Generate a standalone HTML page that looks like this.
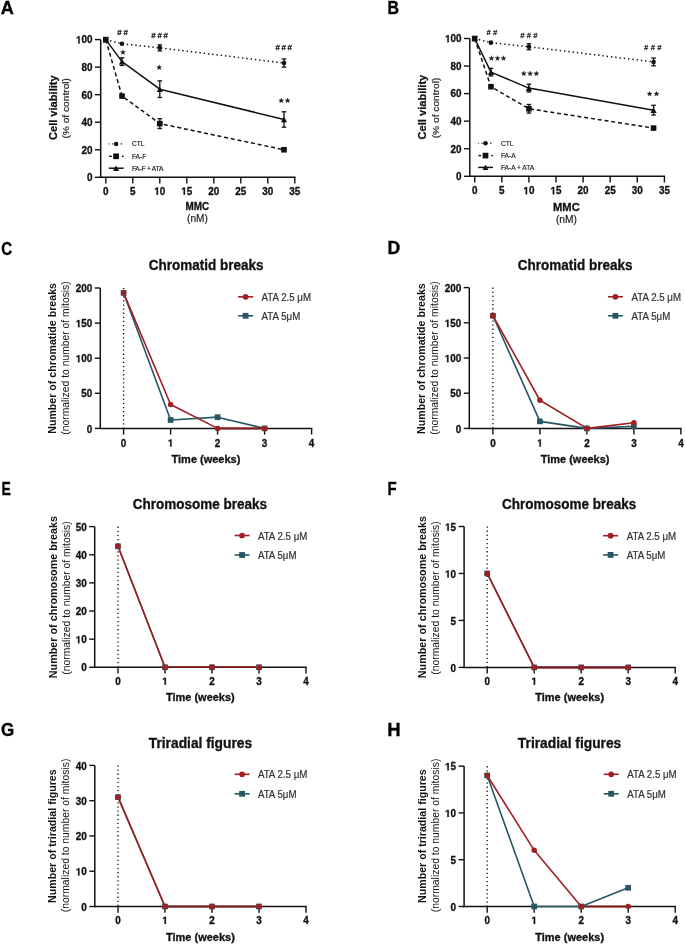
<!DOCTYPE html>
<html><head><meta charset="utf-8"><style>
html,body{margin:0;padding:0;background:#fff;}
svg{display:block;will-change:transform;}
text{font-family:"Liberation Sans", sans-serif;}
text.b{stroke:#111;stroke-width:0.3px;}
text.r{stroke:#333;stroke-width:0.2px;}
</style></head><body>
<svg width="685" height="944" viewBox="0 0 685 944">
<rect width="685" height="944" fill="#fff"/>
<line x1="100.7" y1="39.6" x2="100.7" y2="178" stroke="#111" stroke-width="1.5" />
<line x1="100" y1="177.3" x2="295.5" y2="177.3" stroke="#111" stroke-width="1.5" />
<line x1="94.9" y1="177.3" x2="100.7" y2="177.3" stroke="#111" stroke-width="1.4" />
<text transform="translate(86.99,181.15) scale(1,1.05)" x="0" y="0" font-size="9.9" font-weight="bold" class="b" text-anchor="start" fill="#111" >0</text>
<line x1="94.9" y1="149.76" x2="100.7" y2="149.76" stroke="#111" stroke-width="1.4" />
<text transform="translate(81.49,153.61) scale(1,1.05)" x="0" y="0" font-size="9.9" font-weight="bold" class="b" text-anchor="start" fill="#111" >2</text>
<text transform="translate(86.99,153.61) scale(1,1.05)" x="0" y="0" font-size="9.9" font-weight="bold" class="b" text-anchor="start" fill="#111" >0</text>
<line x1="94.9" y1="122.22" x2="100.7" y2="122.22" stroke="#111" stroke-width="1.4" />
<text transform="translate(81.49,126.07) scale(1,1.05)" x="0" y="0" font-size="9.9" font-weight="bold" class="b" text-anchor="start" fill="#111" >4</text>
<text transform="translate(86.99,126.07) scale(1,1.05)" x="0" y="0" font-size="9.9" font-weight="bold" class="b" text-anchor="start" fill="#111" >0</text>
<line x1="94.9" y1="94.68" x2="100.7" y2="94.68" stroke="#111" stroke-width="1.4" />
<text transform="translate(81.49,98.53) scale(1,1.05)" x="0" y="0" font-size="9.9" font-weight="bold" class="b" text-anchor="start" fill="#111" >6</text>
<text transform="translate(86.99,98.53) scale(1,1.05)" x="0" y="0" font-size="9.9" font-weight="bold" class="b" text-anchor="start" fill="#111" >0</text>
<line x1="94.9" y1="67.14" x2="100.7" y2="67.14" stroke="#111" stroke-width="1.4" />
<text transform="translate(81.49,70.99) scale(1,1.05)" x="0" y="0" font-size="9.9" font-weight="bold" class="b" text-anchor="start" fill="#111" >8</text>
<text transform="translate(86.99,70.99) scale(1,1.05)" x="0" y="0" font-size="9.9" font-weight="bold" class="b" text-anchor="start" fill="#111" >0</text>
<line x1="94.9" y1="39.6" x2="100.7" y2="39.6" stroke="#111" stroke-width="1.4" />
<path transform="translate(75.98,43.45) scale(0.00483,-0.00508)" d="M478,0 L478,1170 L140,959 L140,1180 L493,1409 L759,1409 L759,0 Z" fill="#111" stroke="#111" stroke-width="0.3" vector-effect="non-scaling-stroke"/>
<text transform="translate(81.49,43.45) scale(1,1.05)" x="0" y="0" font-size="9.9" font-weight="bold" class="b" text-anchor="start" fill="#111" >0</text>
<text transform="translate(86.99,43.45) scale(1,1.05)" x="0" y="0" font-size="9.9" font-weight="bold" class="b" text-anchor="start" fill="#111" >0</text>
<line x1="105.8" y1="177.3" x2="105.8" y2="183.5" stroke="#111" stroke-width="1.4" />
<text transform="translate(103.05,194.75) scale(1,1.05)" x="0" y="0" font-size="9.9" font-weight="bold" class="b" text-anchor="start" fill="#111" >0</text>
<line x1="132.8" y1="177.3" x2="132.8" y2="183.5" stroke="#111" stroke-width="1.4" />
<text transform="translate(130.05,194.75) scale(1,1.05)" x="0" y="0" font-size="9.9" font-weight="bold" class="b" text-anchor="start" fill="#111" >5</text>
<line x1="159.8" y1="177.3" x2="159.8" y2="183.5" stroke="#111" stroke-width="1.4" />
<path transform="translate(154.29,194.75) scale(0.00483,-0.00508)" d="M478,0 L478,1170 L140,959 L140,1180 L493,1409 L759,1409 L759,0 Z" fill="#111" stroke="#111" stroke-width="0.3" vector-effect="non-scaling-stroke"/>
<text transform="translate(159.8,194.75) scale(1,1.05)" x="0" y="0" font-size="9.9" font-weight="bold" class="b" text-anchor="start" fill="#111" >0</text>
<line x1="186.8" y1="177.3" x2="186.8" y2="183.5" stroke="#111" stroke-width="1.4" />
<path transform="translate(181.29,194.75) scale(0.00483,-0.00508)" d="M478,0 L478,1170 L140,959 L140,1180 L493,1409 L759,1409 L759,0 Z" fill="#111" stroke="#111" stroke-width="0.3" vector-effect="non-scaling-stroke"/>
<text transform="translate(186.8,194.75) scale(1,1.05)" x="0" y="0" font-size="9.9" font-weight="bold" class="b" text-anchor="start" fill="#111" >5</text>
<line x1="213.8" y1="177.3" x2="213.8" y2="183.5" stroke="#111" stroke-width="1.4" />
<text transform="translate(208.29,194.75) scale(1,1.05)" x="0" y="0" font-size="9.9" font-weight="bold" class="b" text-anchor="start" fill="#111" >2</text>
<text transform="translate(213.8,194.75) scale(1,1.05)" x="0" y="0" font-size="9.9" font-weight="bold" class="b" text-anchor="start" fill="#111" >0</text>
<line x1="240.8" y1="177.3" x2="240.8" y2="183.5" stroke="#111" stroke-width="1.4" />
<text transform="translate(235.29,194.75) scale(1,1.05)" x="0" y="0" font-size="9.9" font-weight="bold" class="b" text-anchor="start" fill="#111" >2</text>
<text transform="translate(240.8,194.75) scale(1,1.05)" x="0" y="0" font-size="9.9" font-weight="bold" class="b" text-anchor="start" fill="#111" >5</text>
<line x1="267.8" y1="177.3" x2="267.8" y2="183.5" stroke="#111" stroke-width="1.4" />
<text transform="translate(262.29,194.75) scale(1,1.05)" x="0" y="0" font-size="9.9" font-weight="bold" class="b" text-anchor="start" fill="#111" >3</text>
<text transform="translate(267.8,194.75) scale(1,1.05)" x="0" y="0" font-size="9.9" font-weight="bold" class="b" text-anchor="start" fill="#111" >0</text>
<line x1="294.8" y1="177.3" x2="294.8" y2="183.5" stroke="#111" stroke-width="1.4" />
<text transform="translate(289.29,194.75) scale(1,1.05)" x="0" y="0" font-size="9.9" font-weight="bold" class="b" text-anchor="start" fill="#111" >3</text>
<text transform="translate(294.8,194.75) scale(1,1.05)" x="0" y="0" font-size="9.9" font-weight="bold" class="b" text-anchor="start" fill="#111" >5</text>
<text transform="translate(197.4,209.8) scale(1,1.05)" x="0" y="0" font-size="9.9" font-weight="bold" class="b" text-anchor="middle" fill="#111" >MMC</text>
<text transform="translate(197.4,221.89) scale(1,1.05)" x="0" y="0" font-size="10.1" class="r" text-anchor="middle" fill="#111" >(nM)</text>
<text transform="translate(56.8,107.7) rotate(-90) scale(1,0.95)" x="0" y="0" font-size="11.1" font-weight="bold" text-anchor="middle" fill="#111" stroke="#111" stroke-width="0.25">Cell viability</text>
<text transform="translate(69.4,108.3) rotate(-90) scale(1,0.92)" x="0" y="0" font-size="10.2" text-anchor="middle" fill="#222" stroke="#222" stroke-width="0.2">(% of control)</text>
<polyline points="105.8,39.6 122,43.73 159.8,47.86 284,63.01" fill="none" stroke="#111" stroke-width="1.5" stroke-linejoin="round" stroke-dasharray="1.4 2.9"/>
<polyline points="105.8,39.6 122,96.06 159.8,123.6 284,149.76" fill="none" stroke="#111" stroke-width="1.5" stroke-linejoin="round" stroke-dasharray="4 2.85"/>
<polyline points="105.8,39.6 122,61.63 159.8,89.17 284,119.47" fill="none" stroke="#111" stroke-width="1.5" stroke-linejoin="round" />
<line x1="159.8" y1="44.86" x2="159.8" y2="50.86" stroke="#111" stroke-width="1.3" />
<line x1="157.5" y1="44.86" x2="162.1" y2="44.86" stroke="#111" stroke-width="1.3" />
<line x1="157.5" y1="50.86" x2="162.1" y2="50.86" stroke="#111" stroke-width="1.3" />
<line x1="284" y1="58.91" x2="284" y2="67.11" stroke="#111" stroke-width="1.3" />
<line x1="281.7" y1="58.91" x2="286.3" y2="58.91" stroke="#111" stroke-width="1.3" />
<line x1="281.7" y1="67.11" x2="286.3" y2="67.11" stroke="#111" stroke-width="1.3" />
<line x1="159.8" y1="118.7" x2="159.8" y2="128.5" stroke="#111" stroke-width="1.3" />
<line x1="157.5" y1="118.7" x2="162.1" y2="118.7" stroke="#111" stroke-width="1.3" />
<line x1="157.5" y1="128.5" x2="162.1" y2="128.5" stroke="#111" stroke-width="1.3" />
<line x1="122" y1="57.78" x2="122" y2="65.48" stroke="#111" stroke-width="1.3" />
<line x1="119.7" y1="57.78" x2="124.3" y2="57.78" stroke="#111" stroke-width="1.3" />
<line x1="119.7" y1="65.48" x2="124.3" y2="65.48" stroke="#111" stroke-width="1.3" />
<line x1="159.8" y1="80.87" x2="159.8" y2="97.47" stroke="#111" stroke-width="1.3" />
<line x1="157.5" y1="80.87" x2="162.1" y2="80.87" stroke="#111" stroke-width="1.3" />
<line x1="157.5" y1="97.47" x2="162.1" y2="97.47" stroke="#111" stroke-width="1.3" />
<line x1="284" y1="111.77" x2="284" y2="127.17" stroke="#111" stroke-width="1.3" />
<line x1="281.7" y1="111.77" x2="286.3" y2="111.77" stroke="#111" stroke-width="1.3" />
<line x1="281.7" y1="127.17" x2="286.3" y2="127.17" stroke="#111" stroke-width="1.3" />
<circle cx="105.8" cy="39.6" r="2.3" fill="#111"/>
<circle cx="122" cy="43.73" r="2.3" fill="#111"/>
<circle cx="159.8" cy="47.86" r="2.3" fill="#111"/>
<circle cx="284" cy="63.01" r="2.3" fill="#111"/>
<rect x="103" y="36.8" width="5.6" height="5.6" fill="#111"/>
<rect x="119.2" y="93.26" width="5.6" height="5.6" fill="#111"/>
<rect x="157" y="120.8" width="5.6" height="5.6" fill="#111"/>
<rect x="281.2" y="146.96" width="5.6" height="5.6" fill="#111"/>
<polygon points="102.7,42.39 108.9,42.39 105.8,36.81" fill="#111"/>
<polygon points="118.9,64.42 125.1,64.42 122,58.84" fill="#111"/>
<polygon points="156.7,91.96 162.9,91.96 159.8,86.38" fill="#111"/>
<polygon points="280.9,122.26 287.1,122.26 284,116.68" fill="#111"/>
<text transform="translate(123.43,35.18) scale(1.28,1.05)" x="0" y="0" font-size="6.2" text-anchor="middle" fill="#1a1a1a" letter-spacing="1.3" stroke="#1a1a1a" stroke-width="0.25" font-style="normal">##</text>
<text transform="translate(160.43,37.98) scale(1.28,1.05)" x="0" y="0" font-size="6.2" text-anchor="middle" fill="#1a1a1a" letter-spacing="1.3" stroke="#1a1a1a" stroke-width="0.25" font-style="normal">###</text>
<text transform="translate(284.53,49.78) scale(1.28,1.05)" x="0" y="0" font-size="6.2" text-anchor="middle" fill="#1a1a1a" letter-spacing="1.3" stroke="#1a1a1a" stroke-width="0.25" font-style="normal">###</text>
<polygon points="122.95,49.65 123.62,51.38 125.47,51.48 124.03,52.65 124.51,54.44 122.95,53.44 121.39,54.44 121.87,52.65 120.43,51.48 122.28,51.38" fill="#1a1a1a" stroke="#1a1a1a" stroke-width="0.3" stroke-linejoin="round"/>
<polygon points="159.2,64.85 159.87,66.58 161.72,66.68 160.28,67.85 160.76,69.64 159.2,68.64 157.64,69.64 158.12,67.85 156.68,66.68 158.53,66.58" fill="#1a1a1a" stroke="#1a1a1a" stroke-width="0.3" stroke-linejoin="round"/>
<polygon points="281.2,98.05 281.87,99.78 283.72,99.88 282.28,101.05 282.76,102.84 281.2,101.84 279.64,102.84 280.12,101.05 278.68,99.88 280.53,99.78" fill="#1a1a1a" stroke="#1a1a1a" stroke-width="0.3" stroke-linejoin="round"/>
<polygon points="287.6,98.05 288.27,99.78 290.12,99.88 288.68,101.05 289.16,102.84 287.6,101.84 286.04,102.84 286.52,101.05 285.08,99.88 286.93,99.78" fill="#1a1a1a" stroke="#1a1a1a" stroke-width="0.3" stroke-linejoin="round"/>
<rect x="108.45" y="143.25" width="1.3" height="1.3" fill="#111" opacity="0.55"/>
<rect x="111.95" y="143.25" width="1.3" height="1.3" fill="#111" opacity="0.85"/>
<rect x="120.75" y="143.25" width="1.3" height="1.3" fill="#111" opacity="1.0"/>
<circle cx="116.1" cy="143.9" r="2.25" fill="#111"/>
<line x1="109" y1="156.3" x2="111.8" y2="156.3" stroke="#111" stroke-width="1.4" />
<line x1="121.9" y1="156.3" x2="123.7" y2="156.3" stroke="#111" stroke-width="1.4" />
<rect x="113.25" y="153.45" width="5.7" height="5.7" fill="#111"/>
<line x1="108.8" y1="168.2" x2="123.6" y2="168.2" stroke="#111" stroke-width="1.5" />
<polygon points="113.1,170.9 119.1,170.9 116.1,165.5" fill="#111"/>
<text transform="translate(131.9,146.2) scale(1,1.05)" x="0" y="0" font-size="6.6" class="r" text-anchor="start" fill="#222" >CTL</text>
<text transform="translate(131.9,158.6) scale(1,1.05)" x="0" y="0" font-size="6.6" class="r" text-anchor="start" fill="#222" >FA-F</text>
<text transform="translate(131.9,170.5) scale(1,1.05)" x="0" y="0" font-size="6.6" class="r" text-anchor="start" fill="#222" textLength="31.4" lengthAdjust="spacing">FA-F + ATA</text>
<line x1="469.8" y1="38.5" x2="469.8" y2="177" stroke="#111" stroke-width="1.5" />
<line x1="469.1" y1="176.3" x2="665.1" y2="176.3" stroke="#111" stroke-width="1.5" />
<line x1="464" y1="176.3" x2="469.8" y2="176.3" stroke="#111" stroke-width="1.4" />
<text transform="translate(456.09,180.15) scale(1,1.05)" x="0" y="0" font-size="9.9" font-weight="bold" class="b" text-anchor="start" fill="#111" >0</text>
<line x1="464" y1="148.74" x2="469.8" y2="148.74" stroke="#111" stroke-width="1.4" />
<text transform="translate(450.59,152.59) scale(1,1.05)" x="0" y="0" font-size="9.9" font-weight="bold" class="b" text-anchor="start" fill="#111" >2</text>
<text transform="translate(456.09,152.59) scale(1,1.05)" x="0" y="0" font-size="9.9" font-weight="bold" class="b" text-anchor="start" fill="#111" >0</text>
<line x1="464" y1="121.18" x2="469.8" y2="121.18" stroke="#111" stroke-width="1.4" />
<text transform="translate(450.59,125.03) scale(1,1.05)" x="0" y="0" font-size="9.9" font-weight="bold" class="b" text-anchor="start" fill="#111" >4</text>
<text transform="translate(456.09,125.03) scale(1,1.05)" x="0" y="0" font-size="9.9" font-weight="bold" class="b" text-anchor="start" fill="#111" >0</text>
<line x1="464" y1="93.62" x2="469.8" y2="93.62" stroke="#111" stroke-width="1.4" />
<text transform="translate(450.59,97.47) scale(1,1.05)" x="0" y="0" font-size="9.9" font-weight="bold" class="b" text-anchor="start" fill="#111" >6</text>
<text transform="translate(456.09,97.47) scale(1,1.05)" x="0" y="0" font-size="9.9" font-weight="bold" class="b" text-anchor="start" fill="#111" >0</text>
<line x1="464" y1="66.06" x2="469.8" y2="66.06" stroke="#111" stroke-width="1.4" />
<text transform="translate(450.59,69.91) scale(1,1.05)" x="0" y="0" font-size="9.9" font-weight="bold" class="b" text-anchor="start" fill="#111" >8</text>
<text transform="translate(456.09,69.91) scale(1,1.05)" x="0" y="0" font-size="9.9" font-weight="bold" class="b" text-anchor="start" fill="#111" >0</text>
<line x1="464" y1="38.5" x2="469.8" y2="38.5" stroke="#111" stroke-width="1.4" />
<path transform="translate(445.08,42.35) scale(0.00483,-0.00508)" d="M478,0 L478,1170 L140,959 L140,1180 L493,1409 L759,1409 L759,0 Z" fill="#111" stroke="#111" stroke-width="0.3" vector-effect="non-scaling-stroke"/>
<text transform="translate(450.59,42.35) scale(1,1.05)" x="0" y="0" font-size="9.9" font-weight="bold" class="b" text-anchor="start" fill="#111" >0</text>
<text transform="translate(456.09,42.35) scale(1,1.05)" x="0" y="0" font-size="9.9" font-weight="bold" class="b" text-anchor="start" fill="#111" >0</text>
<line x1="474.7" y1="176.3" x2="474.7" y2="182.5" stroke="#111" stroke-width="1.4" />
<text transform="translate(471.95,194.25) scale(1,1.05)" x="0" y="0" font-size="9.9" font-weight="bold" class="b" text-anchor="start" fill="#111" >0</text>
<line x1="501.8" y1="176.3" x2="501.8" y2="182.5" stroke="#111" stroke-width="1.4" />
<text transform="translate(499.05,194.25) scale(1,1.05)" x="0" y="0" font-size="9.9" font-weight="bold" class="b" text-anchor="start" fill="#111" >5</text>
<line x1="528.9" y1="176.3" x2="528.9" y2="182.5" stroke="#111" stroke-width="1.4" />
<path transform="translate(523.39,194.25) scale(0.00483,-0.00508)" d="M478,0 L478,1170 L140,959 L140,1180 L493,1409 L759,1409 L759,0 Z" fill="#111" stroke="#111" stroke-width="0.3" vector-effect="non-scaling-stroke"/>
<text transform="translate(528.9,194.25) scale(1,1.05)" x="0" y="0" font-size="9.9" font-weight="bold" class="b" text-anchor="start" fill="#111" >0</text>
<line x1="556" y1="176.3" x2="556" y2="182.5" stroke="#111" stroke-width="1.4" />
<path transform="translate(550.49,194.25) scale(0.00483,-0.00508)" d="M478,0 L478,1170 L140,959 L140,1180 L493,1409 L759,1409 L759,0 Z" fill="#111" stroke="#111" stroke-width="0.3" vector-effect="non-scaling-stroke"/>
<text transform="translate(556,194.25) scale(1,1.05)" x="0" y="0" font-size="9.9" font-weight="bold" class="b" text-anchor="start" fill="#111" >5</text>
<line x1="583.1" y1="176.3" x2="583.1" y2="182.5" stroke="#111" stroke-width="1.4" />
<text transform="translate(577.59,194.25) scale(1,1.05)" x="0" y="0" font-size="9.9" font-weight="bold" class="b" text-anchor="start" fill="#111" >2</text>
<text transform="translate(583.1,194.25) scale(1,1.05)" x="0" y="0" font-size="9.9" font-weight="bold" class="b" text-anchor="start" fill="#111" >0</text>
<line x1="610.2" y1="176.3" x2="610.2" y2="182.5" stroke="#111" stroke-width="1.4" />
<text transform="translate(604.69,194.25) scale(1,1.05)" x="0" y="0" font-size="9.9" font-weight="bold" class="b" text-anchor="start" fill="#111" >2</text>
<text transform="translate(610.2,194.25) scale(1,1.05)" x="0" y="0" font-size="9.9" font-weight="bold" class="b" text-anchor="start" fill="#111" >5</text>
<line x1="637.3" y1="176.3" x2="637.3" y2="182.5" stroke="#111" stroke-width="1.4" />
<text transform="translate(631.79,194.25) scale(1,1.05)" x="0" y="0" font-size="9.9" font-weight="bold" class="b" text-anchor="start" fill="#111" >3</text>
<text transform="translate(637.3,194.25) scale(1,1.05)" x="0" y="0" font-size="9.9" font-weight="bold" class="b" text-anchor="start" fill="#111" >0</text>
<line x1="664.4" y1="176.3" x2="664.4" y2="182.5" stroke="#111" stroke-width="1.4" />
<text transform="translate(658.89,194.25) scale(1,1.05)" x="0" y="0" font-size="9.9" font-weight="bold" class="b" text-anchor="start" fill="#111" >3</text>
<text transform="translate(664.4,194.25) scale(1,1.05)" x="0" y="0" font-size="9.9" font-weight="bold" class="b" text-anchor="start" fill="#111" >5</text>
<text transform="translate(566.4,210.6) scale(1,1.05)" x="0" y="0" font-size="11.2" font-weight="bold" class="b" text-anchor="middle" fill="#111" >MMC</text>
<text transform="translate(566.4,222.96) scale(1,1.05)" x="0" y="0" font-size="10.2" class="r" text-anchor="middle" fill="#111" >(nM)</text>
<text transform="translate(425.9,107.1) rotate(-90) scale(1,0.95)" x="0" y="0" font-size="11.1" font-weight="bold" text-anchor="middle" fill="#111" stroke="#111" stroke-width="0.25">Cell viability</text>
<text transform="translate(438.7,108) rotate(-90) scale(1,0.92)" x="0" y="0" font-size="10.2" text-anchor="middle" fill="#222" stroke="#222" stroke-width="0.2">(% of control)</text>
<polyline points="474.7,38.5 490.96,42.63 528.9,46.77 653.56,61.93" fill="none" stroke="#111" stroke-width="1.5" stroke-linejoin="round" stroke-dasharray="1.4 2.9"/>
<polyline points="474.7,38.5 490.96,86.73 528.9,108.78 653.56,128.07" fill="none" stroke="#111" stroke-width="1.5" stroke-linejoin="round" stroke-dasharray="4 2.85"/>
<polyline points="474.7,38.5 490.96,72.12 528.9,88.11 653.56,110.16" fill="none" stroke="#111" stroke-width="1.5" stroke-linejoin="round" />
<line x1="528.9" y1="43.77" x2="528.9" y2="49.77" stroke="#111" stroke-width="1.3" />
<line x1="526.6" y1="43.77" x2="531.2" y2="43.77" stroke="#111" stroke-width="1.3" />
<line x1="526.6" y1="49.77" x2="531.2" y2="49.77" stroke="#111" stroke-width="1.3" />
<line x1="653.56" y1="58.03" x2="653.56" y2="65.83" stroke="#111" stroke-width="1.3" />
<line x1="651.26" y1="58.03" x2="655.86" y2="58.03" stroke="#111" stroke-width="1.3" />
<line x1="651.26" y1="65.83" x2="655.86" y2="65.83" stroke="#111" stroke-width="1.3" />
<line x1="528.9" y1="104.48" x2="528.9" y2="113.08" stroke="#111" stroke-width="1.3" />
<line x1="526.6" y1="104.48" x2="531.2" y2="104.48" stroke="#111" stroke-width="1.3" />
<line x1="526.6" y1="113.08" x2="531.2" y2="113.08" stroke="#111" stroke-width="1.3" />
<line x1="490.96" y1="68.32" x2="490.96" y2="75.92" stroke="#111" stroke-width="1.3" />
<line x1="488.66" y1="68.32" x2="493.26" y2="68.32" stroke="#111" stroke-width="1.3" />
<line x1="488.66" y1="75.92" x2="493.26" y2="75.92" stroke="#111" stroke-width="1.3" />
<line x1="528.9" y1="84.26" x2="528.9" y2="91.96" stroke="#111" stroke-width="1.3" />
<line x1="526.6" y1="84.26" x2="531.2" y2="84.26" stroke="#111" stroke-width="1.3" />
<line x1="526.6" y1="91.96" x2="531.2" y2="91.96" stroke="#111" stroke-width="1.3" />
<line x1="653.56" y1="105.26" x2="653.56" y2="115.06" stroke="#111" stroke-width="1.3" />
<line x1="651.26" y1="105.26" x2="655.86" y2="105.26" stroke="#111" stroke-width="1.3" />
<line x1="651.26" y1="115.06" x2="655.86" y2="115.06" stroke="#111" stroke-width="1.3" />
<circle cx="474.7" cy="38.5" r="2.3" fill="#111"/>
<circle cx="490.96" cy="42.63" r="2.3" fill="#111"/>
<circle cx="528.9" cy="46.77" r="2.3" fill="#111"/>
<circle cx="653.56" cy="61.93" r="2.3" fill="#111"/>
<rect x="471.9" y="35.7" width="5.6" height="5.6" fill="#111"/>
<rect x="488.16" y="83.93" width="5.6" height="5.6" fill="#111"/>
<rect x="526.1" y="105.98" width="5.6" height="5.6" fill="#111"/>
<rect x="650.76" y="125.27" width="5.6" height="5.6" fill="#111"/>
<polygon points="471.6,41.29 477.8,41.29 474.7,35.71" fill="#111"/>
<polygon points="487.86,74.91 494.06,74.91 490.96,69.33" fill="#111"/>
<polygon points="525.8,90.9 532,90.9 528.9,85.32" fill="#111"/>
<polygon points="650.46,112.95 656.66,112.95 653.56,107.37" fill="#111"/>
<text transform="translate(493.05,34.72) scale(1,1.05)" x="0" y="0" font-size="7.4" text-anchor="middle" fill="#1a1a1a" letter-spacing="2.5" stroke="#1a1a1a" stroke-width="0.25" font-style="italic">##</text>
<text transform="translate(530.05,37.72) scale(1,1.05)" x="0" y="0" font-size="7.4" text-anchor="middle" fill="#1a1a1a" letter-spacing="2.5" stroke="#1a1a1a" stroke-width="0.25" font-style="italic">###</text>
<text transform="translate(653.95,49.72) scale(1,1.05)" x="0" y="0" font-size="7.4" text-anchor="middle" fill="#1a1a1a" letter-spacing="2.5" stroke="#1a1a1a" stroke-width="0.25" font-style="italic">###</text>
<polygon points="491.5,55.65 492.17,57.38 494.02,57.48 492.58,58.65 493.06,60.44 491.5,59.44 489.94,60.44 490.42,58.65 488.98,57.48 490.83,57.38" fill="#1a1a1a" stroke="#1a1a1a" stroke-width="0.3" stroke-linejoin="round"/>
<polygon points="497.5,55.65 498.17,57.38 500.02,57.48 498.58,58.65 499.06,60.44 497.5,59.44 495.94,60.44 496.42,58.65 494.98,57.48 496.83,57.38" fill="#1a1a1a" stroke="#1a1a1a" stroke-width="0.3" stroke-linejoin="round"/>
<polygon points="503.5,55.65 504.17,57.38 506.02,57.48 504.58,58.65 505.06,60.44 503.5,59.44 501.94,60.44 502.42,58.65 500.98,57.48 502.83,57.38" fill="#1a1a1a" stroke="#1a1a1a" stroke-width="0.3" stroke-linejoin="round"/>
<polygon points="523.8,70.95 524.47,72.68 526.32,72.78 524.88,73.95 525.36,75.74 523.8,74.74 522.24,75.74 522.72,73.95 521.28,72.78 523.13,72.68" fill="#1a1a1a" stroke="#1a1a1a" stroke-width="0.3" stroke-linejoin="round"/>
<polygon points="530.1,70.95 530.77,72.68 532.62,72.78 531.18,73.95 531.66,75.74 530.1,74.74 528.54,75.74 529.02,73.95 527.58,72.78 529.43,72.68" fill="#1a1a1a" stroke="#1a1a1a" stroke-width="0.3" stroke-linejoin="round"/>
<polygon points="536.4,70.95 537.07,72.68 538.92,72.78 537.48,73.95 537.96,75.74 536.4,74.74 534.84,75.74 535.32,73.95 533.88,72.78 535.73,72.68" fill="#1a1a1a" stroke="#1a1a1a" stroke-width="0.3" stroke-linejoin="round"/>
<polygon points="649.6,91.25 650.27,92.98 652.12,93.08 650.68,94.25 651.16,96.04 649.6,95.04 648.04,96.04 648.52,94.25 647.08,93.08 648.93,92.98" fill="#1a1a1a" stroke="#1a1a1a" stroke-width="0.3" stroke-linejoin="round"/>
<polygon points="656.5,91.25 657.17,92.98 659.02,93.08 657.58,94.25 658.06,96.04 656.5,95.04 654.94,96.04 655.42,94.25 653.98,93.08 655.83,92.98" fill="#1a1a1a" stroke="#1a1a1a" stroke-width="0.3" stroke-linejoin="round"/>
<rect x="477.85" y="142.65" width="1.3" height="1.3" fill="#111" opacity="0.55"/>
<rect x="481.35" y="142.65" width="1.3" height="1.3" fill="#111" opacity="0.85"/>
<rect x="490.15" y="142.65" width="1.3" height="1.3" fill="#111" opacity="1.0"/>
<circle cx="485.5" cy="143.3" r="2.25" fill="#111"/>
<line x1="478.4" y1="155.6" x2="481.2" y2="155.6" stroke="#111" stroke-width="1.4" />
<line x1="491.3" y1="155.6" x2="493.1" y2="155.6" stroke="#111" stroke-width="1.4" />
<rect x="482.65" y="152.75" width="5.7" height="5.7" fill="#111"/>
<line x1="478.2" y1="167.4" x2="493" y2="167.4" stroke="#111" stroke-width="1.5" />
<polygon points="482.5,170.1 488.5,170.1 485.5,164.7" fill="#111"/>
<text transform="translate(500.9,145.6) scale(1,1.05)" x="0" y="0" font-size="6.6" class="r" text-anchor="start" fill="#222" >CTL</text>
<text transform="translate(500.9,157.9) scale(1,1.05)" x="0" y="0" font-size="6.6" class="r" text-anchor="start" fill="#222" >FA-A</text>
<text transform="translate(500.9,169.7) scale(1,1.05)" x="0" y="0" font-size="6.6" class="r" text-anchor="start" fill="#222" >FA-A + ATA</text>
<line x1="100.3" y1="288" x2="100.3" y2="429.1" stroke="#111" stroke-width="1.5" />
<line x1="99.6" y1="428.4" x2="312.3" y2="428.4" stroke="#111" stroke-width="1.5" />
<line x1="94.8" y1="428.4" x2="100.3" y2="428.4" stroke="#111" stroke-width="1.4" />
<text transform="translate(86.79,432.55) scale(1,1.05)" x="0" y="0" font-size="9.9" font-weight="bold" class="b" text-anchor="start" fill="#111" >0</text>
<line x1="94.8" y1="393.3" x2="100.3" y2="393.3" stroke="#111" stroke-width="1.4" />
<text transform="translate(81.29,397.45) scale(1,1.05)" x="0" y="0" font-size="9.9" font-weight="bold" class="b" text-anchor="start" fill="#111" >5</text>
<text transform="translate(86.79,397.45) scale(1,1.05)" x="0" y="0" font-size="9.9" font-weight="bold" class="b" text-anchor="start" fill="#111" >0</text>
<line x1="94.8" y1="358.2" x2="100.3" y2="358.2" stroke="#111" stroke-width="1.4" />
<path transform="translate(75.78,362.35) scale(0.00483,-0.00508)" d="M478,0 L478,1170 L140,959 L140,1180 L493,1409 L759,1409 L759,0 Z" fill="#111" stroke="#111" stroke-width="0.3" vector-effect="non-scaling-stroke"/>
<text transform="translate(81.29,362.35) scale(1,1.05)" x="0" y="0" font-size="9.9" font-weight="bold" class="b" text-anchor="start" fill="#111" >0</text>
<text transform="translate(86.79,362.35) scale(1,1.05)" x="0" y="0" font-size="9.9" font-weight="bold" class="b" text-anchor="start" fill="#111" >0</text>
<line x1="94.8" y1="323.1" x2="100.3" y2="323.1" stroke="#111" stroke-width="1.4" />
<path transform="translate(75.78,327.25) scale(0.00483,-0.00508)" d="M478,0 L478,1170 L140,959 L140,1180 L493,1409 L759,1409 L759,0 Z" fill="#111" stroke="#111" stroke-width="0.3" vector-effect="non-scaling-stroke"/>
<text transform="translate(81.29,327.25) scale(1,1.05)" x="0" y="0" font-size="9.9" font-weight="bold" class="b" text-anchor="start" fill="#111" >5</text>
<text transform="translate(86.79,327.25) scale(1,1.05)" x="0" y="0" font-size="9.9" font-weight="bold" class="b" text-anchor="start" fill="#111" >0</text>
<line x1="94.8" y1="288" x2="100.3" y2="288" stroke="#111" stroke-width="1.4" />
<text transform="translate(75.78,292.15) scale(1,1.05)" x="0" y="0" font-size="9.9" font-weight="bold" class="b" text-anchor="start" fill="#111" >2</text>
<text transform="translate(81.29,292.15) scale(1,1.05)" x="0" y="0" font-size="9.9" font-weight="bold" class="b" text-anchor="start" fill="#111" >0</text>
<text transform="translate(86.79,292.15) scale(1,1.05)" x="0" y="0" font-size="9.9" font-weight="bold" class="b" text-anchor="start" fill="#111" >0</text>
<line x1="123.6" y1="428.4" x2="123.6" y2="434.6" stroke="#111" stroke-width="1.4" />
<text transform="translate(120.85,446.55) scale(1,1.05)" x="0" y="0" font-size="9.9" font-weight="bold" class="b" text-anchor="start" fill="#111" >0</text>
<line x1="170.6" y1="428.4" x2="170.6" y2="434.6" stroke="#111" stroke-width="1.4" />
<path transform="translate(167.85,446.55) scale(0.00483,-0.00508)" d="M478,0 L478,1170 L140,959 L140,1180 L493,1409 L759,1409 L759,0 Z" fill="#111" stroke="#111" stroke-width="0.3" vector-effect="non-scaling-stroke"/>
<line x1="217.6" y1="428.4" x2="217.6" y2="434.6" stroke="#111" stroke-width="1.4" />
<text transform="translate(214.85,446.55) scale(1,1.05)" x="0" y="0" font-size="9.9" font-weight="bold" class="b" text-anchor="start" fill="#111" >2</text>
<line x1="264.6" y1="428.4" x2="264.6" y2="434.6" stroke="#111" stroke-width="1.4" />
<text transform="translate(261.85,446.55) scale(1,1.05)" x="0" y="0" font-size="9.9" font-weight="bold" class="b" text-anchor="start" fill="#111" >3</text>
<line x1="311.6" y1="428.4" x2="311.6" y2="434.6" stroke="#111" stroke-width="1.4" />
<text transform="translate(308.85,446.55) scale(1,1.05)" x="0" y="0" font-size="9.9" font-weight="bold" class="b" text-anchor="start" fill="#111" >4</text>
<text transform="translate(205.95,463.2) scale(1,1.05)" x="0" y="0" font-size="11" font-weight="bold" class="b" text-anchor="middle" fill="#111" >Time (weeks)</text>
<text transform="translate(206.1,269.8) scale(1,1.05)" x="0" y="0" font-size="13.5" font-weight="bold" class="b" text-anchor="middle" fill="#111" >Chromatid breaks</text>
<text transform="translate(56.3,358.4) rotate(-90) scale(1,1)" x="0" y="0" font-size="10.65" font-weight="bold" text-anchor="middle" fill="#111" >Number of chromatide breaks</text>
<text transform="translate(69.3,358) rotate(-90) scale(1,1)" x="0" y="0" font-size="10.35" text-anchor="middle" fill="#111" >(normalized to number of mitosis)</text>
<line x1="123.6" y1="288" x2="123.6" y2="428.4" stroke="#111" stroke-width="1.3" stroke-dasharray="1.3 2.8"/>
<polyline points="123.6,292.91 170.6,419.98 217.6,417.17 264.6,428.4" fill="none" stroke="#265763" stroke-width="1.6" stroke-linejoin="round" />
<polyline points="123.6,292.91 170.6,404.53 217.6,428.4 264.6,428.4" fill="none" stroke="#A11F23" stroke-width="1.6" stroke-linejoin="round" />
<line x1="217.6" y1="428.4" x2="264.6" y2="428.4" stroke="#7a1a1b" stroke-width="1.5" />
<rect x="120.75" y="290.06" width="5.7" height="5.7" fill="#265763"/>
<rect x="167.75" y="417.13" width="5.7" height="5.7" fill="#265763"/>
<rect x="214.75" y="414.32" width="5.7" height="5.7" fill="#265763"/>
<rect x="261.75" y="425.55" width="5.7" height="5.7" fill="#265763"/>
<circle cx="123.6" cy="292.91" r="2.75" fill="#A11F23"/>
<circle cx="170.6" cy="404.53" r="2.75" fill="#A11F23"/>
<circle cx="217.6" cy="428.4" r="2.75" fill="#A11F23"/>
<circle cx="264.6" cy="428.4" r="2.75" fill="#A11F23"/>
<line x1="238.1" y1="296.8" x2="253.1" y2="296.8" stroke="#A11F23" stroke-width="1.6" />
<circle cx="245.6" cy="296.8" r="2.85" fill="#A11F23"/>
<line x1="238.1" y1="315.8" x2="253.1" y2="315.8" stroke="#265763" stroke-width="1.6" />
<rect x="242.7" y="312.9" width="5.8" height="5.8" fill="#265763"/>
<text transform="translate(261.6,300.9) scale(1,1.05)" x="0" y="0" font-size="9.7" class="r" text-anchor="start" fill="#333" >ATA 2.5 μM</text>
<text transform="translate(261.6,319.9) scale(1,1.05)" x="0" y="0" font-size="9.7" class="r" text-anchor="start" fill="#333" >ATA 5μM</text>
<line x1="469.3" y1="287.6" x2="469.3" y2="429.1" stroke="#111" stroke-width="1.5" />
<line x1="468.6" y1="428.4" x2="681.6" y2="428.4" stroke="#111" stroke-width="1.5" />
<line x1="463.8" y1="428.4" x2="469.3" y2="428.4" stroke="#111" stroke-width="1.4" />
<text transform="translate(455.79,432.55) scale(1,1.05)" x="0" y="0" font-size="9.9" font-weight="bold" class="b" text-anchor="start" fill="#111" >0</text>
<line x1="463.8" y1="393.2" x2="469.3" y2="393.2" stroke="#111" stroke-width="1.4" />
<text transform="translate(450.29,397.35) scale(1,1.05)" x="0" y="0" font-size="9.9" font-weight="bold" class="b" text-anchor="start" fill="#111" >5</text>
<text transform="translate(455.79,397.35) scale(1,1.05)" x="0" y="0" font-size="9.9" font-weight="bold" class="b" text-anchor="start" fill="#111" >0</text>
<line x1="463.8" y1="358" x2="469.3" y2="358" stroke="#111" stroke-width="1.4" />
<path transform="translate(444.78,362.15) scale(0.00483,-0.00508)" d="M478,0 L478,1170 L140,959 L140,1180 L493,1409 L759,1409 L759,0 Z" fill="#111" stroke="#111" stroke-width="0.3" vector-effect="non-scaling-stroke"/>
<text transform="translate(450.29,362.15) scale(1,1.05)" x="0" y="0" font-size="9.9" font-weight="bold" class="b" text-anchor="start" fill="#111" >0</text>
<text transform="translate(455.79,362.15) scale(1,1.05)" x="0" y="0" font-size="9.9" font-weight="bold" class="b" text-anchor="start" fill="#111" >0</text>
<line x1="463.8" y1="322.8" x2="469.3" y2="322.8" stroke="#111" stroke-width="1.4" />
<path transform="translate(444.78,326.95) scale(0.00483,-0.00508)" d="M478,0 L478,1170 L140,959 L140,1180 L493,1409 L759,1409 L759,0 Z" fill="#111" stroke="#111" stroke-width="0.3" vector-effect="non-scaling-stroke"/>
<text transform="translate(450.29,326.95) scale(1,1.05)" x="0" y="0" font-size="9.9" font-weight="bold" class="b" text-anchor="start" fill="#111" >5</text>
<text transform="translate(455.79,326.95) scale(1,1.05)" x="0" y="0" font-size="9.9" font-weight="bold" class="b" text-anchor="start" fill="#111" >0</text>
<line x1="463.8" y1="287.6" x2="469.3" y2="287.6" stroke="#111" stroke-width="1.4" />
<text transform="translate(444.78,291.75) scale(1,1.05)" x="0" y="0" font-size="9.9" font-weight="bold" class="b" text-anchor="start" fill="#111" >2</text>
<text transform="translate(450.29,291.75) scale(1,1.05)" x="0" y="0" font-size="9.9" font-weight="bold" class="b" text-anchor="start" fill="#111" >0</text>
<text transform="translate(455.79,291.75) scale(1,1.05)" x="0" y="0" font-size="9.9" font-weight="bold" class="b" text-anchor="start" fill="#111" >0</text>
<line x1="492.9" y1="428.4" x2="492.9" y2="434.6" stroke="#111" stroke-width="1.4" />
<text transform="translate(490.15,446.55) scale(1,1.05)" x="0" y="0" font-size="9.9" font-weight="bold" class="b" text-anchor="start" fill="#111" >0</text>
<line x1="539.9" y1="428.4" x2="539.9" y2="434.6" stroke="#111" stroke-width="1.4" />
<path transform="translate(537.15,446.55) scale(0.00483,-0.00508)" d="M478,0 L478,1170 L140,959 L140,1180 L493,1409 L759,1409 L759,0 Z" fill="#111" stroke="#111" stroke-width="0.3" vector-effect="non-scaling-stroke"/>
<line x1="586.9" y1="428.4" x2="586.9" y2="434.6" stroke="#111" stroke-width="1.4" />
<text transform="translate(584.15,446.55) scale(1,1.05)" x="0" y="0" font-size="9.9" font-weight="bold" class="b" text-anchor="start" fill="#111" >2</text>
<line x1="633.9" y1="428.4" x2="633.9" y2="434.6" stroke="#111" stroke-width="1.4" />
<text transform="translate(631.15,446.55) scale(1,1.05)" x="0" y="0" font-size="9.9" font-weight="bold" class="b" text-anchor="start" fill="#111" >3</text>
<line x1="680.9" y1="428.4" x2="680.9" y2="434.6" stroke="#111" stroke-width="1.4" />
<text transform="translate(678.15,446.55) scale(1,1.05)" x="0" y="0" font-size="9.9" font-weight="bold" class="b" text-anchor="start" fill="#111" >4</text>
<text transform="translate(575.1,462.7) scale(1,1.05)" x="0" y="0" font-size="11" font-weight="bold" class="b" text-anchor="middle" fill="#111" >Time (weeks)</text>
<text transform="translate(575.1,269.8) scale(1,1.05)" x="0" y="0" font-size="13.5" font-weight="bold" class="b" text-anchor="middle" fill="#111" >Chromatid breaks</text>
<text transform="translate(425.3,358.6) rotate(-90) scale(1,1)" x="0" y="0" font-size="10.65" font-weight="bold" text-anchor="middle" fill="#111" >Number of chromatide breaks</text>
<text transform="translate(438.4,358) rotate(-90) scale(1,1)" x="0" y="0" font-size="10.35" text-anchor="middle" fill="#111" >(normalized to number of mitosis)</text>
<line x1="492.9" y1="287.6" x2="492.9" y2="428.4" stroke="#111" stroke-width="1.3" stroke-dasharray="1.3 2.8"/>
<polyline points="492.9,315.76 539.9,421.36 586.9,428.4 633.9,426.29" fill="none" stroke="#265763" stroke-width="1.6" stroke-linejoin="round" />
<polyline points="492.9,315.76 539.9,400.24 586.9,428.4 633.9,422.77" fill="none" stroke="#A11F23" stroke-width="1.6" stroke-linejoin="round" />
<rect x="490.05" y="312.91" width="5.7" height="5.7" fill="#265763"/>
<rect x="537.05" y="418.51" width="5.7" height="5.7" fill="#265763"/>
<rect x="584.05" y="425.55" width="5.7" height="5.7" fill="#265763"/>
<rect x="631.05" y="423.44" width="5.7" height="5.7" fill="#265763"/>
<circle cx="492.9" cy="315.76" r="2.75" fill="#A11F23"/>
<circle cx="539.9" cy="400.24" r="2.75" fill="#A11F23"/>
<circle cx="586.9" cy="428.4" r="2.75" fill="#A11F23"/>
<circle cx="633.9" cy="422.77" r="2.75" fill="#A11F23"/>
<line x1="607.9" y1="296.8" x2="622.9" y2="296.8" stroke="#A11F23" stroke-width="1.6" />
<circle cx="615.4" cy="296.8" r="2.85" fill="#A11F23"/>
<line x1="607.9" y1="315.8" x2="622.9" y2="315.8" stroke="#265763" stroke-width="1.6" />
<rect x="612.5" y="312.9" width="5.8" height="5.8" fill="#265763"/>
<text transform="translate(631.6,300.9) scale(1,1.05)" x="0" y="0" font-size="9.7" class="r" text-anchor="start" fill="#333" >ATA 2.5 μM</text>
<text transform="translate(631.6,319.9) scale(1,1.05)" x="0" y="0" font-size="9.7" class="r" text-anchor="start" fill="#333" >ATA 5μM</text>
<line x1="94.7" y1="526.6" x2="94.7" y2="668" stroke="#111" stroke-width="1.5" />
<line x1="94" y1="667.3" x2="306.7" y2="667.3" stroke="#111" stroke-width="1.5" />
<line x1="89.2" y1="667.3" x2="94.7" y2="667.3" stroke="#111" stroke-width="1.4" />
<text transform="translate(81.19,671.45) scale(1,1.05)" x="0" y="0" font-size="9.9" font-weight="bold" class="b" text-anchor="start" fill="#111" >0</text>
<line x1="89.2" y1="639.16" x2="94.7" y2="639.16" stroke="#111" stroke-width="1.4" />
<path transform="translate(75.69,643.31) scale(0.00483,-0.00508)" d="M478,0 L478,1170 L140,959 L140,1180 L493,1409 L759,1409 L759,0 Z" fill="#111" stroke="#111" stroke-width="0.3" vector-effect="non-scaling-stroke"/>
<text transform="translate(81.19,643.31) scale(1,1.05)" x="0" y="0" font-size="9.9" font-weight="bold" class="b" text-anchor="start" fill="#111" >0</text>
<line x1="89.2" y1="611.02" x2="94.7" y2="611.02" stroke="#111" stroke-width="1.4" />
<text transform="translate(75.69,615.17) scale(1,1.05)" x="0" y="0" font-size="9.9" font-weight="bold" class="b" text-anchor="start" fill="#111" >2</text>
<text transform="translate(81.19,615.17) scale(1,1.05)" x="0" y="0" font-size="9.9" font-weight="bold" class="b" text-anchor="start" fill="#111" >0</text>
<line x1="89.2" y1="582.88" x2="94.7" y2="582.88" stroke="#111" stroke-width="1.4" />
<text transform="translate(75.69,587.03) scale(1,1.05)" x="0" y="0" font-size="9.9" font-weight="bold" class="b" text-anchor="start" fill="#111" >3</text>
<text transform="translate(81.19,587.03) scale(1,1.05)" x="0" y="0" font-size="9.9" font-weight="bold" class="b" text-anchor="start" fill="#111" >0</text>
<line x1="89.2" y1="554.74" x2="94.7" y2="554.74" stroke="#111" stroke-width="1.4" />
<text transform="translate(75.69,558.89) scale(1,1.05)" x="0" y="0" font-size="9.9" font-weight="bold" class="b" text-anchor="start" fill="#111" >4</text>
<text transform="translate(81.19,558.89) scale(1,1.05)" x="0" y="0" font-size="9.9" font-weight="bold" class="b" text-anchor="start" fill="#111" >0</text>
<line x1="89.2" y1="526.6" x2="94.7" y2="526.6" stroke="#111" stroke-width="1.4" />
<text transform="translate(75.69,530.75) scale(1,1.05)" x="0" y="0" font-size="9.9" font-weight="bold" class="b" text-anchor="start" fill="#111" >5</text>
<text transform="translate(81.19,530.75) scale(1,1.05)" x="0" y="0" font-size="9.9" font-weight="bold" class="b" text-anchor="start" fill="#111" >0</text>
<line x1="118" y1="667.3" x2="118" y2="673.5" stroke="#111" stroke-width="1.4" />
<text transform="translate(115.25,684.85) scale(1,1.05)" x="0" y="0" font-size="9.9" font-weight="bold" class="b" text-anchor="start" fill="#111" >0</text>
<line x1="165" y1="667.3" x2="165" y2="673.5" stroke="#111" stroke-width="1.4" />
<path transform="translate(162.25,684.85) scale(0.00483,-0.00508)" d="M478,0 L478,1170 L140,959 L140,1180 L493,1409 L759,1409 L759,0 Z" fill="#111" stroke="#111" stroke-width="0.3" vector-effect="non-scaling-stroke"/>
<line x1="212" y1="667.3" x2="212" y2="673.5" stroke="#111" stroke-width="1.4" />
<text transform="translate(209.25,684.85) scale(1,1.05)" x="0" y="0" font-size="9.9" font-weight="bold" class="b" text-anchor="start" fill="#111" >2</text>
<line x1="259" y1="667.3" x2="259" y2="673.5" stroke="#111" stroke-width="1.4" />
<text transform="translate(256.25,684.85) scale(1,1.05)" x="0" y="0" font-size="9.9" font-weight="bold" class="b" text-anchor="start" fill="#111" >3</text>
<line x1="306" y1="667.3" x2="306" y2="673.5" stroke="#111" stroke-width="1.4" />
<text transform="translate(303.25,684.85) scale(1,1.05)" x="0" y="0" font-size="9.9" font-weight="bold" class="b" text-anchor="start" fill="#111" >4</text>
<text transform="translate(200.35,701.1) scale(1,1.05)" x="0" y="0" font-size="11" font-weight="bold" class="b" text-anchor="middle" fill="#111" >Time (weeks)</text>
<text transform="translate(199.8,508.6) scale(1,1.05)" x="0" y="0" font-size="13.5" font-weight="bold" class="b" text-anchor="middle" fill="#111" >Chromosome breaks</text>
<text transform="translate(56.6,597.1) rotate(-90) scale(1,1)" x="0" y="0" font-size="10.78" font-weight="bold" text-anchor="middle" fill="#111" >Number of chromosome breaks</text>
<text transform="translate(69.5,598) rotate(-90) scale(1,1)" x="0" y="0" font-size="10.35" text-anchor="middle" fill="#111" >(normalized to number of mitosis)</text>
<line x1="118" y1="526.6" x2="118" y2="667.3" stroke="#111" stroke-width="1.3" stroke-dasharray="1.3 2.8"/>
<polyline points="118,546.3 165,667.3 212,667.3 259,667.3" fill="none" stroke="#265763" stroke-width="1.6" stroke-linejoin="round" />
<polyline points="118,546.3 165,667.3 212,667.3 259,667.3" fill="none" stroke="#A11F23" stroke-width="1.6" stroke-linejoin="round" />
<line x1="165" y1="667.3" x2="212" y2="667.3" stroke="#7a1a1b" stroke-width="1.5" />
<line x1="212" y1="667.3" x2="259" y2="667.3" stroke="#7a1a1b" stroke-width="1.5" />
<rect x="115.15" y="543.45" width="5.7" height="5.7" fill="#265763"/>
<rect x="162.15" y="664.45" width="5.7" height="5.7" fill="#265763"/>
<rect x="209.15" y="664.45" width="5.7" height="5.7" fill="#265763"/>
<rect x="256.15" y="664.45" width="5.7" height="5.7" fill="#265763"/>
<circle cx="118" cy="546.3" r="2.75" fill="#A11F23"/>
<circle cx="165" cy="667.3" r="2.75" fill="#A11F23"/>
<circle cx="212" cy="667.3" r="2.75" fill="#A11F23"/>
<circle cx="259" cy="667.3" r="2.75" fill="#A11F23"/>
<line x1="234.6" y1="535.5" x2="249.6" y2="535.5" stroke="#A11F23" stroke-width="1.6" />
<circle cx="242.1" cy="535.5" r="2.85" fill="#A11F23"/>
<line x1="234.6" y1="555" x2="249.6" y2="555" stroke="#265763" stroke-width="1.6" />
<rect x="239.2" y="552.1" width="5.8" height="5.8" fill="#265763"/>
<text transform="translate(257.9,539.6) scale(1,1.05)" x="0" y="0" font-size="9.7" class="r" text-anchor="start" fill="#333" >ATA 2.5 μM</text>
<text transform="translate(257.9,559.1) scale(1,1.05)" x="0" y="0" font-size="9.7" class="r" text-anchor="start" fill="#333" >ATA 5μM</text>
<line x1="464.1" y1="526.5" x2="464.1" y2="668.1" stroke="#111" stroke-width="1.5" />
<line x1="463.4" y1="667.4" x2="675.9" y2="667.4" stroke="#111" stroke-width="1.5" />
<line x1="458.6" y1="667.4" x2="464.1" y2="667.4" stroke="#111" stroke-width="1.4" />
<text transform="translate(450.59,671.55) scale(1,1.05)" x="0" y="0" font-size="9.9" font-weight="bold" class="b" text-anchor="start" fill="#111" >0</text>
<line x1="458.6" y1="620.43" x2="464.1" y2="620.43" stroke="#111" stroke-width="1.4" />
<text transform="translate(450.59,624.58) scale(1,1.05)" x="0" y="0" font-size="9.9" font-weight="bold" class="b" text-anchor="start" fill="#111" >5</text>
<line x1="458.6" y1="573.47" x2="464.1" y2="573.47" stroke="#111" stroke-width="1.4" />
<path transform="translate(445.09,577.62) scale(0.00483,-0.00508)" d="M478,0 L478,1170 L140,959 L140,1180 L493,1409 L759,1409 L759,0 Z" fill="#111" stroke="#111" stroke-width="0.3" vector-effect="non-scaling-stroke"/>
<text transform="translate(450.59,577.62) scale(1,1.05)" x="0" y="0" font-size="9.9" font-weight="bold" class="b" text-anchor="start" fill="#111" >0</text>
<line x1="458.6" y1="526.5" x2="464.1" y2="526.5" stroke="#111" stroke-width="1.4" />
<path transform="translate(445.09,530.65) scale(0.00483,-0.00508)" d="M478,0 L478,1170 L140,959 L140,1180 L493,1409 L759,1409 L759,0 Z" fill="#111" stroke="#111" stroke-width="0.3" vector-effect="non-scaling-stroke"/>
<text transform="translate(450.59,530.65) scale(1,1.05)" x="0" y="0" font-size="9.9" font-weight="bold" class="b" text-anchor="start" fill="#111" >5</text>
<line x1="487.2" y1="667.4" x2="487.2" y2="673.6" stroke="#111" stroke-width="1.4" />
<text transform="translate(484.45,684.85) scale(1,1.05)" x="0" y="0" font-size="9.9" font-weight="bold" class="b" text-anchor="start" fill="#111" >0</text>
<line x1="534.2" y1="667.4" x2="534.2" y2="673.6" stroke="#111" stroke-width="1.4" />
<path transform="translate(531.45,684.85) scale(0.00483,-0.00508)" d="M478,0 L478,1170 L140,959 L140,1180 L493,1409 L759,1409 L759,0 Z" fill="#111" stroke="#111" stroke-width="0.3" vector-effect="non-scaling-stroke"/>
<line x1="581.2" y1="667.4" x2="581.2" y2="673.6" stroke="#111" stroke-width="1.4" />
<text transform="translate(578.45,684.85) scale(1,1.05)" x="0" y="0" font-size="9.9" font-weight="bold" class="b" text-anchor="start" fill="#111" >2</text>
<line x1="628.2" y1="667.4" x2="628.2" y2="673.6" stroke="#111" stroke-width="1.4" />
<text transform="translate(625.45,684.85) scale(1,1.05)" x="0" y="0" font-size="9.9" font-weight="bold" class="b" text-anchor="start" fill="#111" >3</text>
<line x1="675.2" y1="667.4" x2="675.2" y2="673.6" stroke="#111" stroke-width="1.4" />
<text transform="translate(672.45,684.85) scale(1,1.05)" x="0" y="0" font-size="9.9" font-weight="bold" class="b" text-anchor="start" fill="#111" >4</text>
<text transform="translate(569.65,701.2) scale(1,1.05)" x="0" y="0" font-size="11" font-weight="bold" class="b" text-anchor="middle" fill="#111" >Time (weeks)</text>
<text transform="translate(569.2,508.6) scale(1,1.05)" x="0" y="0" font-size="13.5" font-weight="bold" class="b" text-anchor="middle" fill="#111" >Chromosome breaks</text>
<text transform="translate(426.4,597.1) rotate(-90) scale(1,1)" x="0" y="0" font-size="10.78" font-weight="bold" text-anchor="middle" fill="#111" >Number of chromosome breaks</text>
<text transform="translate(439.3,598) rotate(-90) scale(1,1)" x="0" y="0" font-size="10.35" text-anchor="middle" fill="#111" >(normalized to number of mitosis)</text>
<line x1="487.2" y1="526.5" x2="487.2" y2="667.4" stroke="#111" stroke-width="1.3" stroke-dasharray="1.3 2.8"/>
<polyline points="487.2,573.47 534.2,667.4 581.2,667.4 628.2,667.4" fill="none" stroke="#265763" stroke-width="1.6" stroke-linejoin="round" />
<polyline points="487.2,573.47 534.2,667.4 581.2,667.4 628.2,667.4" fill="none" stroke="#A11F23" stroke-width="1.6" stroke-linejoin="round" />
<line x1="534.2" y1="667.4" x2="581.2" y2="667.4" stroke="#7a1a1b" stroke-width="1.5" />
<line x1="581.2" y1="667.4" x2="628.2" y2="667.4" stroke="#7a1a1b" stroke-width="1.5" />
<rect x="484.35" y="570.62" width="5.7" height="5.7" fill="#265763"/>
<rect x="531.35" y="664.55" width="5.7" height="5.7" fill="#265763"/>
<rect x="578.35" y="664.55" width="5.7" height="5.7" fill="#265763"/>
<rect x="625.35" y="664.55" width="5.7" height="5.7" fill="#265763"/>
<circle cx="487.2" cy="573.47" r="2.75" fill="#A11F23"/>
<circle cx="534.2" cy="667.4" r="2.75" fill="#A11F23"/>
<circle cx="581.2" cy="667.4" r="2.75" fill="#A11F23"/>
<circle cx="628.2" cy="667.4" r="2.75" fill="#A11F23"/>
<line x1="603.1" y1="535.7" x2="618.1" y2="535.7" stroke="#A11F23" stroke-width="1.6" />
<circle cx="610.6" cy="535.7" r="2.85" fill="#A11F23"/>
<line x1="603.1" y1="554.9" x2="618.1" y2="554.9" stroke="#265763" stroke-width="1.6" />
<rect x="607.7" y="552" width="5.8" height="5.8" fill="#265763"/>
<text transform="translate(626.7,539.8) scale(1,1.05)" x="0" y="0" font-size="9.7" class="r" text-anchor="start" fill="#333" >ATA 2.5 μM</text>
<text transform="translate(626.7,559) scale(1,1.05)" x="0" y="0" font-size="9.7" class="r" text-anchor="start" fill="#333" >ATA 5μM</text>
<line x1="94.8" y1="765.4" x2="94.8" y2="907.2" stroke="#111" stroke-width="1.5" />
<line x1="94.1" y1="906.5" x2="306.7" y2="906.5" stroke="#111" stroke-width="1.5" />
<line x1="89.3" y1="906.5" x2="94.8" y2="906.5" stroke="#111" stroke-width="1.4" />
<text transform="translate(81.29,910.65) scale(1,1.05)" x="0" y="0" font-size="9.9" font-weight="bold" class="b" text-anchor="start" fill="#111" >0</text>
<line x1="89.3" y1="871.23" x2="94.8" y2="871.23" stroke="#111" stroke-width="1.4" />
<path transform="translate(75.79,875.38) scale(0.00483,-0.00508)" d="M478,0 L478,1170 L140,959 L140,1180 L493,1409 L759,1409 L759,0 Z" fill="#111" stroke="#111" stroke-width="0.3" vector-effect="non-scaling-stroke"/>
<text transform="translate(81.29,875.38) scale(1,1.05)" x="0" y="0" font-size="9.9" font-weight="bold" class="b" text-anchor="start" fill="#111" >0</text>
<line x1="89.3" y1="835.95" x2="94.8" y2="835.95" stroke="#111" stroke-width="1.4" />
<text transform="translate(75.79,840.1) scale(1,1.05)" x="0" y="0" font-size="9.9" font-weight="bold" class="b" text-anchor="start" fill="#111" >2</text>
<text transform="translate(81.29,840.1) scale(1,1.05)" x="0" y="0" font-size="9.9" font-weight="bold" class="b" text-anchor="start" fill="#111" >0</text>
<line x1="89.3" y1="800.67" x2="94.8" y2="800.67" stroke="#111" stroke-width="1.4" />
<text transform="translate(75.79,804.82) scale(1,1.05)" x="0" y="0" font-size="9.9" font-weight="bold" class="b" text-anchor="start" fill="#111" >3</text>
<text transform="translate(81.29,804.82) scale(1,1.05)" x="0" y="0" font-size="9.9" font-weight="bold" class="b" text-anchor="start" fill="#111" >0</text>
<line x1="89.3" y1="765.4" x2="94.8" y2="765.4" stroke="#111" stroke-width="1.4" />
<text transform="translate(75.79,769.55) scale(1,1.05)" x="0" y="0" font-size="9.9" font-weight="bold" class="b" text-anchor="start" fill="#111" >4</text>
<text transform="translate(81.29,769.55) scale(1,1.05)" x="0" y="0" font-size="9.9" font-weight="bold" class="b" text-anchor="start" fill="#111" >0</text>
<line x1="118" y1="906.5" x2="118" y2="912.7" stroke="#111" stroke-width="1.4" />
<text transform="translate(115.25,923.95) scale(1,1.05)" x="0" y="0" font-size="9.9" font-weight="bold" class="b" text-anchor="start" fill="#111" >0</text>
<line x1="165" y1="906.5" x2="165" y2="912.7" stroke="#111" stroke-width="1.4" />
<path transform="translate(162.25,923.95) scale(0.00483,-0.00508)" d="M478,0 L478,1170 L140,959 L140,1180 L493,1409 L759,1409 L759,0 Z" fill="#111" stroke="#111" stroke-width="0.3" vector-effect="non-scaling-stroke"/>
<line x1="212" y1="906.5" x2="212" y2="912.7" stroke="#111" stroke-width="1.4" />
<text transform="translate(209.25,923.95) scale(1,1.05)" x="0" y="0" font-size="9.9" font-weight="bold" class="b" text-anchor="start" fill="#111" >2</text>
<line x1="259" y1="906.5" x2="259" y2="912.7" stroke="#111" stroke-width="1.4" />
<text transform="translate(256.25,923.95) scale(1,1.05)" x="0" y="0" font-size="9.9" font-weight="bold" class="b" text-anchor="start" fill="#111" >3</text>
<line x1="306" y1="906.5" x2="306" y2="912.7" stroke="#111" stroke-width="1.4" />
<text transform="translate(303.25,923.95) scale(1,1.05)" x="0" y="0" font-size="9.9" font-weight="bold" class="b" text-anchor="start" fill="#111" >4</text>
<text transform="translate(200.4,940.8) scale(1,1.05)" x="0" y="0" font-size="11" font-weight="bold" class="b" text-anchor="middle" fill="#111" >Time (weeks)</text>
<text transform="translate(200.45,747.7) scale(1,1.05)" x="0" y="0" font-size="13.8" font-weight="bold" class="b" text-anchor="middle" fill="#111" >Triradial figures</text>
<text transform="translate(56.4,836.2) rotate(-90) scale(1,1)" x="0" y="0" font-size="10.65" font-weight="bold" text-anchor="middle" fill="#111" >Number of triradial figures</text>
<text transform="translate(69.4,835.4) rotate(-90) scale(1,1)" x="0" y="0" font-size="10.35" text-anchor="middle" fill="#111" >(normalized to number of mitosis)</text>
<line x1="118" y1="765.4" x2="118" y2="906.5" stroke="#111" stroke-width="1.3" stroke-dasharray="1.3 2.8"/>
<polyline points="118,797.15 165,906.5 212,906.5 259,906.5" fill="none" stroke="#265763" stroke-width="1.6" stroke-linejoin="round" />
<polyline points="118,797.15 165,906.5 212,906.5 259,906.5" fill="none" stroke="#A11F23" stroke-width="1.6" stroke-linejoin="round" />
<line x1="165" y1="906.5" x2="212" y2="906.5" stroke="#7a1a1b" stroke-width="1.5" />
<line x1="212" y1="906.5" x2="259" y2="906.5" stroke="#7a1a1b" stroke-width="1.5" />
<rect x="115.15" y="794.3" width="5.7" height="5.7" fill="#265763"/>
<rect x="162.15" y="903.65" width="5.7" height="5.7" fill="#265763"/>
<rect x="209.15" y="903.65" width="5.7" height="5.7" fill="#265763"/>
<rect x="256.15" y="903.65" width="5.7" height="5.7" fill="#265763"/>
<circle cx="118" cy="797.15" r="2.75" fill="#A11F23"/>
<circle cx="165" cy="906.5" r="2.75" fill="#A11F23"/>
<circle cx="212" cy="906.5" r="2.75" fill="#A11F23"/>
<circle cx="259" cy="906.5" r="2.75" fill="#A11F23"/>
<line x1="234.6" y1="774.3" x2="249.6" y2="774.3" stroke="#A11F23" stroke-width="1.6" />
<circle cx="242.1" cy="774.3" r="2.85" fill="#A11F23"/>
<line x1="234.6" y1="793.8" x2="249.6" y2="793.8" stroke="#265763" stroke-width="1.6" />
<rect x="239.2" y="790.9" width="5.8" height="5.8" fill="#265763"/>
<text transform="translate(257.9,778.4) scale(1,1.05)" x="0" y="0" font-size="9.7" class="r" text-anchor="start" fill="#333" >ATA 2.5 μM</text>
<text transform="translate(257.9,797.9) scale(1,1.05)" x="0" y="0" font-size="9.7" class="r" text-anchor="start" fill="#333" >ATA 5μM</text>
<line x1="464.1" y1="766.1" x2="464.1" y2="907.2" stroke="#111" stroke-width="1.5" />
<line x1="463.4" y1="906.5" x2="675.9" y2="906.5" stroke="#111" stroke-width="1.5" />
<line x1="458.6" y1="906.5" x2="464.1" y2="906.5" stroke="#111" stroke-width="1.4" />
<text transform="translate(450.59,910.65) scale(1,1.05)" x="0" y="0" font-size="9.9" font-weight="bold" class="b" text-anchor="start" fill="#111" >0</text>
<line x1="458.6" y1="859.7" x2="464.1" y2="859.7" stroke="#111" stroke-width="1.4" />
<text transform="translate(450.59,863.85) scale(1,1.05)" x="0" y="0" font-size="9.9" font-weight="bold" class="b" text-anchor="start" fill="#111" >5</text>
<line x1="458.6" y1="812.9" x2="464.1" y2="812.9" stroke="#111" stroke-width="1.4" />
<path transform="translate(445.09,817.05) scale(0.00483,-0.00508)" d="M478,0 L478,1170 L140,959 L140,1180 L493,1409 L759,1409 L759,0 Z" fill="#111" stroke="#111" stroke-width="0.3" vector-effect="non-scaling-stroke"/>
<text transform="translate(450.59,817.05) scale(1,1.05)" x="0" y="0" font-size="9.9" font-weight="bold" class="b" text-anchor="start" fill="#111" >0</text>
<line x1="458.6" y1="766.1" x2="464.1" y2="766.1" stroke="#111" stroke-width="1.4" />
<path transform="translate(445.09,770.25) scale(0.00483,-0.00508)" d="M478,0 L478,1170 L140,959 L140,1180 L493,1409 L759,1409 L759,0 Z" fill="#111" stroke="#111" stroke-width="0.3" vector-effect="non-scaling-stroke"/>
<text transform="translate(450.59,770.25) scale(1,1.05)" x="0" y="0" font-size="9.9" font-weight="bold" class="b" text-anchor="start" fill="#111" >5</text>
<line x1="487.2" y1="906.5" x2="487.2" y2="912.7" stroke="#111" stroke-width="1.4" />
<text transform="translate(484.45,923.95) scale(1,1.05)" x="0" y="0" font-size="9.9" font-weight="bold" class="b" text-anchor="start" fill="#111" >0</text>
<line x1="534.2" y1="906.5" x2="534.2" y2="912.7" stroke="#111" stroke-width="1.4" />
<path transform="translate(531.45,923.95) scale(0.00483,-0.00508)" d="M478,0 L478,1170 L140,959 L140,1180 L493,1409 L759,1409 L759,0 Z" fill="#111" stroke="#111" stroke-width="0.3" vector-effect="non-scaling-stroke"/>
<line x1="581.2" y1="906.5" x2="581.2" y2="912.7" stroke="#111" stroke-width="1.4" />
<text transform="translate(578.45,923.95) scale(1,1.05)" x="0" y="0" font-size="9.9" font-weight="bold" class="b" text-anchor="start" fill="#111" >2</text>
<line x1="628.2" y1="906.5" x2="628.2" y2="912.7" stroke="#111" stroke-width="1.4" />
<text transform="translate(625.45,923.95) scale(1,1.05)" x="0" y="0" font-size="9.9" font-weight="bold" class="b" text-anchor="start" fill="#111" >3</text>
<line x1="675.2" y1="906.5" x2="675.2" y2="912.7" stroke="#111" stroke-width="1.4" />
<text transform="translate(672.45,923.95) scale(1,1.05)" x="0" y="0" font-size="9.9" font-weight="bold" class="b" text-anchor="start" fill="#111" >4</text>
<text transform="translate(569.65,940.8) scale(1,1.05)" x="0" y="0" font-size="11" font-weight="bold" class="b" text-anchor="middle" fill="#111" >Time (weeks)</text>
<text transform="translate(569.55,747.7) scale(1,1.05)" x="0" y="0" font-size="13.8" font-weight="bold" class="b" text-anchor="middle" fill="#111" >Triradial figures</text>
<text transform="translate(426.4,836.2) rotate(-90) scale(1,1)" x="0" y="0" font-size="10.65" font-weight="bold" text-anchor="middle" fill="#111" >Number of triradial figures</text>
<text transform="translate(439.4,835.4) rotate(-90) scale(1,1)" x="0" y="0" font-size="10.35" text-anchor="middle" fill="#111" >(normalized to number of mitosis)</text>
<line x1="487.2" y1="766.1" x2="487.2" y2="906.5" stroke="#111" stroke-width="1.3" stroke-dasharray="1.3 2.8"/>
<polyline points="487.2,775.46 534.2,906.5 581.2,906.5 628.2,887.78" fill="none" stroke="#265763" stroke-width="1.6" stroke-linejoin="round" />
<polyline points="487.2,775.46 534.2,850.34 581.2,906.5 628.2,906.5" fill="none" stroke="#A11F23" stroke-width="1.6" stroke-linejoin="round" />
<line x1="581.2" y1="906.5" x2="628.2" y2="906.5" stroke="#7a1a1b" stroke-width="1.5" />
<rect x="484.35" y="772.61" width="5.7" height="5.7" fill="#265763"/>
<rect x="531.35" y="903.65" width="5.7" height="5.7" fill="#265763"/>
<rect x="578.35" y="903.65" width="5.7" height="5.7" fill="#265763"/>
<rect x="625.35" y="884.93" width="5.7" height="5.7" fill="#265763"/>
<circle cx="487.2" cy="775.46" r="2.75" fill="#A11F23"/>
<circle cx="534.2" cy="850.34" r="2.75" fill="#A11F23"/>
<circle cx="581.2" cy="906.5" r="2.75" fill="#A11F23"/>
<circle cx="628.2" cy="906.5" r="2.75" fill="#A11F23"/>
<line x1="603.7" y1="774.3" x2="618.7" y2="774.3" stroke="#A11F23" stroke-width="1.6" />
<circle cx="611.2" cy="774.3" r="2.85" fill="#A11F23"/>
<line x1="603.7" y1="793.8" x2="618.7" y2="793.8" stroke="#265763" stroke-width="1.6" />
<rect x="608.3" y="790.9" width="5.8" height="5.8" fill="#265763"/>
<text transform="translate(627.3,778.4) scale(1,1.05)" x="0" y="0" font-size="9.7" class="r" text-anchor="start" fill="#333" >ATA 2.5 μM</text>
<text transform="translate(627.3,797.9) scale(1,1.05)" x="0" y="0" font-size="9.7" class="r" text-anchor="start" fill="#333" >ATA 5μM</text>
<text transform="translate(0.66,14) scale(0.98,1)" x="0" y="0" font-size="18.5" font-weight="bold" fill="#000" stroke="#000" stroke-width="0.35">A</text>
<text transform="translate(387.4,13.9) scale(0.86,1)" x="0" y="0" font-size="18.5" font-weight="bold" fill="#000" stroke="#000" stroke-width="0.35">B</text>
<text transform="translate(1.15,254.5) scale(0.81,1)" x="0" y="0" font-size="18.5" font-weight="bold" fill="#000" stroke="#000" stroke-width="0.35">C</text>
<text transform="translate(387.6,254.3) scale(0.95,1)" x="0" y="0" font-size="18.5" font-weight="bold" fill="#000" stroke="#000" stroke-width="0.35">D</text>
<text transform="translate(1.4,494.9) scale(0.76,1)" x="0" y="0" font-size="18.5" font-weight="bold" fill="#000" stroke="#000" stroke-width="0.35">E</text>
<text transform="translate(387.5,495) scale(0.81,1)" x="0" y="0" font-size="18.5" font-weight="bold" fill="#000" stroke="#000" stroke-width="0.35">F</text>
<text transform="translate(1.07,735.5) scale(0.92,1)" x="0" y="0" font-size="18.5" font-weight="bold" fill="#000" stroke="#000" stroke-width="0.35">G</text>
<text transform="translate(387.2,735.8) scale(1,1)" x="0" y="0" font-size="18.5" font-weight="bold" fill="#000" stroke="#000" stroke-width="0.35">H</text>
</svg>
</body></html>
